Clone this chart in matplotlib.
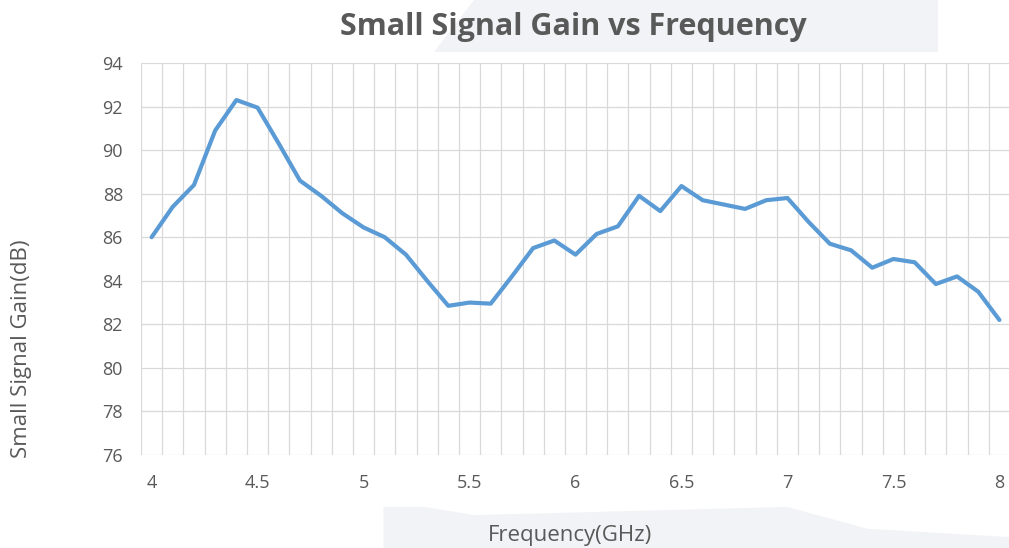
import matplotlib
matplotlib.use("Agg")
import numpy as np
import matplotlib.pyplot as plt
from matplotlib.patches import Polygon

# frequency in GHz, gain in dB
freq = [4.0, 4.1, 4.2, 4.3, 4.4, 4.5, 4.6, 4.7, 4.8, 4.9,
        5.0, 5.1, 5.2, 5.3, 5.4, 5.5, 5.6, 5.7, 5.8, 5.9,
        6.0, 6.1, 6.2, 6.3, 6.4, 6.5, 6.6, 6.7, 6.8, 6.9,
        7.0, 7.1, 7.2, 7.3, 7.4, 7.5, 7.6, 7.7, 7.8, 7.9, 8.0]
gain = [86.0, 87.4, 88.4, 90.9, 92.3, 91.95, 90.3, 88.6, 87.9, 87.1,
        86.45, 86.0, 85.2, 84.0, 82.85, 83.0, 82.95, 84.2, 85.5, 85.85,
        85.2, 86.15, 86.5, 87.9, 87.2, 88.35, 87.7, 87.5, 87.3, 87.7,
        87.8, 86.7, 85.7, 85.4, 84.6, 85.0, 84.85, 83.85, 84.2, 83.5, 82.2]
xticks = [4, 4.5, 5, 5.5, 6, 6.5, 7, 7.5, 8]
xticklabels = ['4', '4.5', '5', '5.5', '6', '6.5', '7', '7.5', '8']
yticks = [76, 78, 80, 82, 84, 86, 88, 90, 92, 94]

plt.rcParams['font.family'] = ['Open Sans', 'DejaVu Sans']

fig = plt.figure(figsize=(10.09, 5.48), dpi=100)

# faint watermark shapes behind everything
wm = '#f2f3f6'
fig.patches.append(Polygon([[0.47, 1.0], [0.93, 1.0], [0.93, 0.905], [0.43, 0.905]],
                           closed=True, transform=fig.transFigure,
                           facecolor=wm, edgecolor='none', zorder=-5))
fig.patches.append(Polygon([[0.38, 0.0], [0.38, 0.075], [0.42, 0.075], [0.47, 0.06],
                            [0.78, 0.075], [0.86, 0.035], [1.0, 0.02], [1.0, 0.0]],
                           closed=True, transform=fig.transFigure,
                           facecolor=wm, edgecolor='none', zorder=-5))

ax = fig.add_axes([141 / 1009, 1 - 455 / 548, 869 / 1009, 392 / 548])
ax.set_facecolor('white')

ax.plot(freq, gain, color='#5b9bd5', linewidth=3.0, solid_joinstyle='round',
        solid_capstyle='round', zorder=3)

ax.set_xlim(3.95, 8.05)
ax.set_ylim(76, 94)
ax.set_xticks(xticks)
ax.set_xticklabels(xticklabels)
ax.set_yticks(yticks)

# category boundaries as vertical grid lines
ax.set_xticks(np.arange(3.95, 8.06, 0.1), minor=True)
ax.grid(True, which='minor', axis='x', color='#d9d9d9', linewidth=0.9)
ax.grid(True, which='major', axis='y', color='#d9d9d9', linewidth=0.9)
ax.tick_params(which='both', length=0)
ax.tick_params(axis='x', colors='#595959', labelsize=13, pad=14)
ax.tick_params(axis='y', colors='#595959', labelsize=13, pad=13)
for s in ax.spines.values():
    s.set_visible(False)

fig.text(573 / 1009, 1 - 27 / 548, 'Small Signal Gain vs Frequency',
         ha='center', va='center', fontsize=22, fontweight='bold', color='#595959')
fig.text(570 / 1009, 1 - 536 / 548, 'Frequency(GHz)', ha='center', va='center',
         fontsize=16, color='#595959')
fig.text(22 / 1009, 1 - 349 / 548, 'Small Signal Gain(dB)', ha='center', va='center',
         rotation=90, fontsize=16, color='#595959')

fig.savefig('out.png', dpi=100)
